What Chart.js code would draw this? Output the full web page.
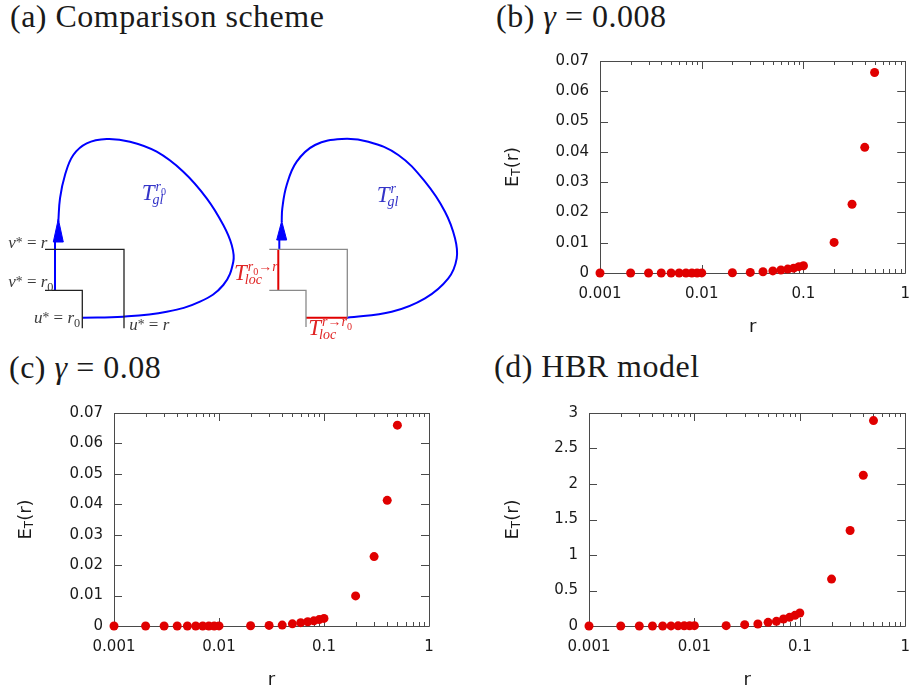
<!DOCTYPE html>
<html><head><meta charset="utf-8">
<script src="https://cdn.jsdelivr.net/npm/chart.js@4"></script>
<style>
html,body{margin:0;padding:0;background:#fff;}
body{width:922px;height:693px;position:relative;overflow:hidden;}
.title{position:absolute;font-family:"Liberation Serif",serif;font-size:32px;line-height:32px;color:#1a1a1a;white-space:nowrap;letter-spacing:0.5px;}
canvas{position:absolute;}
</style></head><body>
<div class="title" style="left:10px;top:0px">(a) Comparison scheme</div>
<div class="title" style="left:496px;top:0px">(b) <i>γ</i> = 0.008</div>
<div class="title" style="left:9px;top:351px">(c) <i>γ</i> = 0.08</div>
<div class="title" style="left:494px;top:350px">(d) HBR model</div>
<canvas id="ca" width="470" height="300" style="left:0;top:40px"></canvas>
<canvas id="cb" width="432" height="300" style="left:490px;top:40px"></canvas>
<canvas id="cc" width="460" height="303" style="left:0;top:390px"></canvas>
<canvas id="cd" width="442" height="303" style="left:480px;top:390px"></canvas>
<script>
// ---------- data ----------
const rValues = [0.001,0.002,0.003,0.004,0.005,0.006,0.007,0.008,0.009,0.01,0.02,0.03,0.04,0.05,0.06,0.07,0.08,0.09,0.1,0.2,0.3,0.4,0.5];
const etGamma008 = [0,0,0,0,0,0,0,0,0,0.00003,0.0001,0.0002,0.0004,0.0007,0.001,0.0013,0.0016,0.0021,0.0024,0.0101,0.0227,0.0415,0.0662];
const etGamma08  = [0,0,0,0,0,0,0,0,0,0.00003,0.0001,0.0002,0.0003,0.0007,0.0011,0.0014,0.0017,0.0021,0.0025,0.0099,0.0228,0.0413,0.066];
const etHBR      = [0,0,0,0,0,0.001,0.002,0.003,0.004,0.005,0.005,0.019,0.028,0.052,0.066,0.098,0.122,0.15,0.183,0.661,1.345,2.124,2.893];
const xMajorTicks = [0.001,0.01,0.1,1];
const xMajorLabels = ['0.001','0.01','0.1','1'];
const yTicksSmall = [0,0.01,0.02,0.03,0.04,0.05,0.06,0.07];
const yLabelsSmall = ['0','0.01','0.02','0.03','0.04','0.05','0.06','0.07'];
const yTicksHBR = [0,0.5,1,1.5,2,2.5,3];
const yLabelsHBR = ['0','0.5','1','1.5','2','2.5','3'];

// ---------- diagram (a) paths, in diagram units ----------
const loopLeft = [[82.3,317.7],[123,316.7],[166.7,311.7],[200,301.7],[223.3,285],[233.3,261.7],[231.7,245],[223.3,225],[206.7,198.3],[183.3,171.7],[156.7,151.7],[130,141.7],[106.7,139],[86.7,143.3],[73.3,155],[65,175],[60,198.3],[58.3,222]];
const loopRight = [[346.7,317.7],[391.7,311.7],[425,298.3],[448.3,278.3],[456.7,258.3],[455,238.3],[445,211.7],[425,181.7],[398.3,155],[368.3,141.7],[341.7,139],[315,145],[296.7,161.7],[286.7,185],[282.3,208.3],[281.7,222]];
const blueStemLeft = [[55,290.3],[55,241]];
const blueStemRight = [[279.3,249.3],[279.3,239]];
const arrowLeft = [[53.3,242],[58.3,219],[63.3,242],[53.3,242]];
const arrowRight = [[276.7,240],[281.7,221],[286.7,240],[276.7,240]];
const stepsLeftUpper = [[45,249.3],[124,249.3],[124,328.3]];
const stepsLeftLower = [[45,290.3],[82.3,290.3],[82.3,328.3]];
const stepsRightUpper = [[269.3,249.3],[347.3,249.3],[347.3,317.7]];
const stepsRightLower = [[269.3,290.3],[306,290.3],[306,327]];
const redVertical = [[278.3,249.3],[278.3,290.3]];
const redHorizontal = [[306,317.7],[347.3,317.7]];

Chart.defaults.font.family = '"DejaVu Sans", sans-serif';

const pts = a => a.map(p => ({x:p[0], y:p[1]}));
function lineDs(arr, color, width, extra) {
  return Object.assign({data: pts(arr), showLine:true, borderColor:color, backgroundColor:color,
    borderWidth:width, pointRadius:0, pointHoverRadius:0, tension:0, fill:false, clip:false}, extra||{});
}

// rich text helper
function drawParts(ctx, x, y, parts, size, color) {
  let cx = x;
  ctx.fillStyle = color;
  ctx.textBaseline = 'alphabetic';
  ctx.textAlign = 'left';
  for (const p of parts) {
    const s = size * (p.sc || 1);
    ctx.font = (p.it ? 'italic ' : '') + s + 'px "Liberation Serif", serif';
    ctx.fillText(p.t, cx, y + (p.dy || 0) * size);
    cx += ctx.measureText(p.t).width;
  }
  return cx - x;
}
function drawCalT(ctx, x, y, supParts, subParts, color) {
  ctx.font = 'italic 23px "Liberation Serif", serif';
  ctx.fillStyle = color;
  ctx.textBaseline = 'alphabetic';
  ctx.textAlign = 'left';
  ctx.fillText('T', x, y);
  const w = ctx.measureText('T').width;
  drawParts(ctx, x + w + 1, y - 9, supParts, 14, color);
  drawParts(ctx, x + w - 2, y + 4, subParts, 14, color);
}
const R0 = [{t:'r',it:1},{t:'0',sc:0.72,dy:0.25}];
const diagramTextPlugin = {
  id:'diagramText',
  afterDatasetsDraw(chart) {
    const {ctx, scales:{x, y}} = chart;
    const X = v => x.getPixelForValue(v), Y = v => y.getPixelForValue(v);
    ctx.save();
    const g = '#3a3a3a';
    const star = {t:'*', sc:0.8, dy:-0.05};
    drawParts(ctx, X(8.3), Y(248), [{t:'v',it:1}, star, {t:' = '}, {t:'r',it:1}], 17, g);
    drawParts(ctx, X(8.3), Y(286.5), [{t:'v',it:1}, star, {t:' = '}].concat(R0), 17, g);
    drawParts(ctx, X(34), Y(323), [{t:'u',it:1}, star, {t:' = '}].concat(R0), 17, g);
    drawParts(ctx, X(129.3), Y(329.5), [{t:'u',it:1}, star, {t:' = '}, {t:'r',it:1}], 17, g);
    const blue = '#3434c8', red = '#e02424';
    drawCalT(ctx, X(141.7), Y(200), R0, [{t:'gl',it:1}], blue);
    drawCalT(ctx, X(376.7), Y(202), [{t:'r',it:1}], [{t:'gl',it:1}], blue);
    drawCalT(ctx, X(234), Y(280), R0.concat([{t:'→'},{t:'r',it:1}]), [{t:'loc',it:1}], red);
    drawCalT(ctx, X(308.3), Y(335), [{t:'r',it:1},{t:'→'}].concat(R0), [{t:'loc',it:1}], red);
    ctx.restore();
  }
};

new Chart(document.getElementById('ca'), {
  type:'scatter',
  data:{datasets:[
    lineDs(stepsLeftUpper, '#222', 1.3),
    lineDs(stepsLeftLower, '#222', 1.3),
    lineDs(stepsRightUpper, '#8a8a8a', 1.3),
    lineDs(stepsRightLower, '#8a8a8a', 1.3),
    lineDs(redVertical, '#e00000', 2),
    lineDs(redHorizontal, '#e00000', 2),
    lineDs(loopLeft, '#0000ff', 2, {tension:0.4}),
    lineDs(loopRight, '#0000ff', 2, {tension:0.4}),
    lineDs(blueStemLeft, '#0000ff', 2),
    lineDs(blueStemRight, '#0000ff', 2),
    lineDs(arrowLeft, '#0000ff', 1, {fill:'shape'}),
    lineDs(arrowRight, '#0000ff', 1, {fill:'shape'})
  ]},
  options:{
    responsive:false, animation:false, events:[],
    layout:{padding:0},
    plugins:{legend:{display:false}, tooltip:{enabled:false}},
    scales:{
      x:{type:'linear', min:0, max:470, display:false},
      y:{type:'linear', min:40, max:340, reverse:true, display:false}
    }
  },
  plugins:[diagramTextPlugin]
});

// ---------- scatter panels ----------
const xAllTicks = [];
for (let e = -3; e < 0; e++) for (let m = 1; m <= 9; m++) xAllTicks.push(m * Math.pow(10, e));
xAllTicks.push(1);
function isMajor(v) { return xMajorTicks.some(m => Math.abs(Math.log10(v) - Math.log10(m)) < 1e-6); }
function majorLabel(v) {
  const i = xMajorTicks.findIndex(m => Math.abs(Math.log10(v) - Math.log10(m)) < 1e-6);
  return i >= 0 ? xMajorLabels[i] : '';
}

const frameTicksPlugin = {
  id:'frameTicks',
  beforeDatasetsDraw(chart, args, opts) {
    const {ctx, chartArea:a, scales:{x, y}} = chart;
    const c = v => Math.round(v) + 0.5;
    ctx.save();
    ctx.strokeStyle = '#4a4a4a';
    ctx.lineWidth = 1;
    ctx.beginPath();
    ctx.rect(c(a.left), c(a.top), Math.round(a.right) - Math.round(a.left), Math.round(a.bottom) - Math.round(a.top));
    ctx.stroke();
    ctx.beginPath();
    for (const t of y.ticks) {
      const py = c(y.getPixelForValue(t.value));
      ctx.moveTo(a.left, py); ctx.lineTo(a.left + 8, py);
      ctx.moveTo(a.right, py); ctx.lineTo(a.right - 8, py);
    }
    for (const t of x.ticks) {
      const px = c(x.getPixelForValue(t.value));
      const L = isMajor(t.value) ? 8 : 4;
      ctx.moveTo(px, a.bottom); ctx.lineTo(px, a.bottom - L);
      ctx.moveTo(px, a.top); ctx.lineTo(px, a.top + L);
    }
    ctx.stroke();
    // axis titles
    ctx.fillStyle = '#1a1a1a';
    ctx.textBaseline = 'middle';
    ctx.textAlign = 'center';
    ctx.font = '18px "DejaVu Sans", sans-serif';
    ctx.fillText('r', (a.left + a.right) / 2, a.bottom + 54);
    ctx.translate(a.left - opts.yTitleGap, (a.top + a.bottom) / 2);
    ctx.rotate(-Math.PI / 2);
    ctx.textAlign = 'left';
    ctx.textBaseline = 'middle';
    ctx.font = '18px "DejaVu Sans", sans-serif';
    const wE = ctx.measureText('E').width;
    const wR = ctx.measureText('(r)').width;
    ctx.font = '12px "DejaVu Sans", sans-serif';
    const wT = ctx.measureText('T').width;
    let sx = -(wE + wT + wR) / 2;
    ctx.font = '18px "DejaVu Sans", sans-serif';
    ctx.fillText('E', sx, 0); sx += wE;
    ctx.font = '12px "DejaVu Sans", sans-serif';
    ctx.fillText('T', sx, 4); sx += wT;
    ctx.font = '18px "DejaVu Sans", sans-serif';
    ctx.fillText('(r)', sx, 0);
    ctx.restore();
  }
};

function makePanel(id, area, values, yTicks, yLabels, yTitleGap) {
  const cv = document.getElementById(id);
  const w = cv.width, h = cv.height;
  return new Chart(cv, {
    type:'scatter',
    data:{datasets:[{
      data: rValues.map((r, i) => ({x:r, y:values[i]})),
      backgroundColor:'#e00000', borderColor:'#e00000', borderWidth:0,
      pointRadius:4.5, pointHoverRadius:4.5, clip:false
    }]},
    options:{
      responsive:false, animation:false, events:[],
      layout:{padding:{left:0, top:area.top, right:w - area.right, bottom:0}},
      plugins:{legend:{display:false}, tooltip:{enabled:false}, frameTicks:{yTitleGap}},
      scales:{
        x:{
          type:'logarithmic', min:0.001, max:1,
          grid:{display:false, drawTicks:false}, border:{display:false},
          afterFit: s => { s.height = h - area.bottom; },
          afterBuildTicks: s => { s.ticks = xAllTicks.map(v => ({value:v, major:isMajor(v)})); },
          ticks:{autoSkip:false, maxRotation:0, minRotation:0, padding:12, color:'#1a1a1a',
                 font:{family:'"DejaVu Sans", sans-serif', size:15},
                 callback: v => majorLabel(v)}
        },
        y:{
          type:'linear', min:0, max:yTicks[yTicks.length - 1],
          grid:{display:false, drawTicks:false}, border:{display:false},
          afterFit: s => { s.width = area.left; },
          afterBuildTicks: s => { s.ticks = yTicks.map(v => ({value:v})); },
          ticks:{padding:11, color:'#1a1a1a', font:{family:'"DejaVu Sans", sans-serif', size:15},
                 callback: (v, i) => yLabels[i]}
        }
      }
    },
    plugins:[frameTicksPlugin]
  });
}
makePanel('cb', {left:110, top:21, right:424, bottom:233}, etGamma008, yTicksSmall, yLabelsSmall, 87);
makePanel('cc', {left:114, top:23, right:429, bottom:236}, etGamma08, yTicksSmall, yLabelsSmall, 88);
makePanel('cd', {left:109, top:23, right:434, bottom:236}, etHBR, yTicksHBR, yLabelsHBR, 76);
</script>
</body></html>
